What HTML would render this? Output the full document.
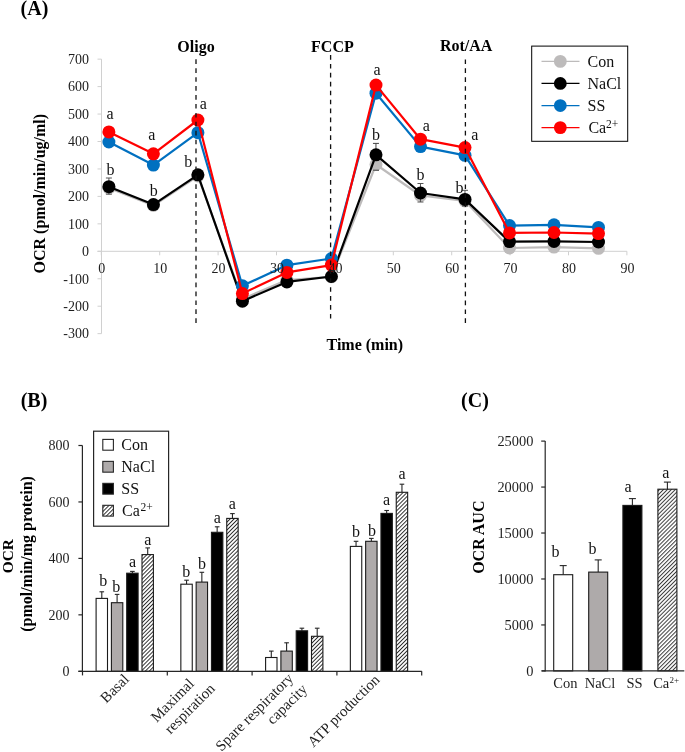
<!DOCTYPE html>
<html><head><meta charset="utf-8"><style>
html,body{margin:0;padding:0;background:#fff;}
body{width:685px;height:752px;overflow:hidden;}
svg{display:block;font-family:"Liberation Serif", serif;will-change:transform;}
</style></head><body>
<svg width="685" height="752" viewBox="0 0 685 752">
<defs>
<pattern id="hatch" patternUnits="userSpaceOnUse" width="2.8" height="4" patternTransform="rotate(45)">
<rect width="2.8" height="4" fill="#fff"/><rect width="0.95" height="4" fill="#2a2a2a"/>
</pattern>
<pattern id="hatchC" patternUnits="userSpaceOnUse" width="2.8" height="4" patternTransform="rotate(45)">
<rect width="2.8" height="4" fill="#fff"/><rect width="1.0" height="4" fill="#3a3a3a"/>
</pattern>
</defs>
<rect width="685" height="752" fill="#fff"/>
<text x="34.5" y="15" font-size="20" text-anchor="middle" font-weight="bold" fill="#000" >(A)</text>
<line x1="101.5" y1="59.150000000000006" x2="101.5" y2="333.65000000000003" stroke="#d0d0d0" stroke-width="1" />
<line x1="97.5" y1="333.65000000000003" x2="101.5" y2="333.65000000000003" stroke="#d0d0d0" stroke-width="1" />
<text x="89" y="338.45" font-size="14" text-anchor="end" font-weight="normal" fill="#1e1e1e" >-300</text>
<line x1="97.5" y1="306.20000000000005" x2="101.5" y2="306.20000000000005" stroke="#d0d0d0" stroke-width="1" />
<text x="89" y="311.0" font-size="14" text-anchor="end" font-weight="normal" fill="#1e1e1e" >-200</text>
<line x1="97.5" y1="278.75" x2="101.5" y2="278.75" stroke="#d0d0d0" stroke-width="1" />
<text x="89" y="283.55" font-size="14" text-anchor="end" font-weight="normal" fill="#1e1e1e" >-100</text>
<line x1="97.5" y1="251.3" x2="101.5" y2="251.3" stroke="#d0d0d0" stroke-width="1" />
<text x="89" y="256.1" font-size="14" text-anchor="end" font-weight="normal" fill="#1e1e1e" >0</text>
<line x1="97.5" y1="223.85000000000002" x2="101.5" y2="223.85000000000002" stroke="#d0d0d0" stroke-width="1" />
<text x="89" y="228.65" font-size="14" text-anchor="end" font-weight="normal" fill="#1e1e1e" >100</text>
<line x1="97.5" y1="196.4" x2="101.5" y2="196.4" stroke="#d0d0d0" stroke-width="1" />
<text x="89" y="201.2" font-size="14" text-anchor="end" font-weight="normal" fill="#1e1e1e" >200</text>
<line x1="97.5" y1="168.95" x2="101.5" y2="168.95" stroke="#d0d0d0" stroke-width="1" />
<text x="89" y="173.75" font-size="14" text-anchor="end" font-weight="normal" fill="#1e1e1e" >300</text>
<line x1="97.5" y1="141.5" x2="101.5" y2="141.5" stroke="#d0d0d0" stroke-width="1" />
<text x="89" y="146.3" font-size="14" text-anchor="end" font-weight="normal" fill="#1e1e1e" >400</text>
<line x1="97.5" y1="114.05000000000001" x2="101.5" y2="114.05000000000001" stroke="#d0d0d0" stroke-width="1" />
<text x="89" y="118.85" font-size="14" text-anchor="end" font-weight="normal" fill="#1e1e1e" >500</text>
<line x1="97.5" y1="86.6" x2="101.5" y2="86.6" stroke="#d0d0d0" stroke-width="1" />
<text x="89" y="91.4" font-size="14" text-anchor="end" font-weight="normal" fill="#1e1e1e" >600</text>
<line x1="97.5" y1="59.150000000000006" x2="101.5" y2="59.150000000000006" stroke="#d0d0d0" stroke-width="1" />
<text x="89" y="63.95" font-size="14" text-anchor="end" font-weight="normal" fill="#1e1e1e" >700</text>
<line x1="97.5" y1="251.3" x2="626.9" y2="251.3" stroke="#d0d0d0" stroke-width="1" />
<line x1="101.3" y1="251.3" x2="101.3" y2="255.3" stroke="#d0d0d0" stroke-width="1" />
<line x1="159.7" y1="251.3" x2="159.7" y2="255.3" stroke="#d0d0d0" stroke-width="1" />
<line x1="218.1" y1="251.3" x2="218.1" y2="255.3" stroke="#d0d0d0" stroke-width="1" />
<line x1="276.5" y1="251.3" x2="276.5" y2="255.3" stroke="#d0d0d0" stroke-width="1" />
<line x1="334.9" y1="251.3" x2="334.9" y2="255.3" stroke="#d0d0d0" stroke-width="1" />
<line x1="393.3" y1="251.3" x2="393.3" y2="255.3" stroke="#d0d0d0" stroke-width="1" />
<line x1="451.7" y1="251.3" x2="451.7" y2="255.3" stroke="#d0d0d0" stroke-width="1" />
<line x1="510.1" y1="251.3" x2="510.1" y2="255.3" stroke="#d0d0d0" stroke-width="1" />
<line x1="568.5" y1="251.3" x2="568.5" y2="255.3" stroke="#d0d0d0" stroke-width="1" />
<line x1="626.9" y1="251.3" x2="626.9" y2="255.3" stroke="#d0d0d0" stroke-width="1" />
<line x1="375.96000000000004" y1="143.4" x2="375.96000000000004" y2="170.2" stroke="#444" stroke-width="1" />
<line x1="372.96000000000004" y1="143.4" x2="378.96000000000004" y2="143.4" stroke="#444" stroke-width="1" />
<line x1="372.96000000000004" y1="170.2" x2="378.96000000000004" y2="170.2" stroke="#444" stroke-width="1" />
<polyline points="108.9,188.0 153.4,205.5 197.9,176.0 242.4,299.0 286.9,280.0 331.4,276.8 376.0,164.5 420.5,195.5 465.0,201.0 509.5,248.0 554.0,247.1 598.5,248.3" fill="none" stroke="#bdbbbb" stroke-width="2.2" stroke-linejoin="round"/>
<circle cx="108.9" cy="188.0" r="6.5" fill="#bdbbbb"/>
<circle cx="153.4" cy="205.5" r="6.5" fill="#bdbbbb"/>
<circle cx="197.9" cy="176.0" r="6.5" fill="#bdbbbb"/>
<circle cx="242.4" cy="299.0" r="6.5" fill="#bdbbbb"/>
<circle cx="286.9" cy="280.0" r="6.5" fill="#bdbbbb"/>
<circle cx="331.4" cy="276.8" r="6.5" fill="#bdbbbb"/>
<circle cx="376.0" cy="164.5" r="6.5" fill="#bdbbbb"/>
<circle cx="420.5" cy="195.5" r="6.5" fill="#bdbbbb"/>
<circle cx="465.0" cy="201.0" r="6.5" fill="#bdbbbb"/>
<circle cx="509.5" cy="248.0" r="6.5" fill="#bdbbbb"/>
<circle cx="554.0" cy="247.1" r="6.5" fill="#bdbbbb"/>
<circle cx="598.5" cy="248.3" r="6.5" fill="#bdbbbb"/>
<line x1="372.96000000000004" y1="170.2" x2="378.96000000000004" y2="170.2" stroke="#444" stroke-width="1" />
<line x1="108.9" y1="178" x2="108.9" y2="194.2" stroke="#555" stroke-width="1" />
<line x1="105.9" y1="178" x2="111.9" y2="178" stroke="#555" stroke-width="1" />
<line x1="105.9" y1="194.2" x2="111.9" y2="194.2" stroke="#555" stroke-width="1" />
<line x1="420.47" y1="183.5" x2="420.47" y2="202" stroke="#555" stroke-width="1" />
<line x1="417.47" y1="183.5" x2="423.47" y2="183.5" stroke="#555" stroke-width="1" />
<line x1="417.47" y1="202" x2="423.47" y2="202" stroke="#555" stroke-width="1" />
<line x1="464.98" y1="190.3" x2="464.98" y2="206" stroke="#555" stroke-width="1" />
<line x1="461.98" y1="190.3" x2="467.98" y2="190.3" stroke="#555" stroke-width="1" />
<line x1="461.98" y1="206" x2="467.98" y2="206" stroke="#555" stroke-width="1" />
<polyline points="108.9,186.7 153.4,204.6 197.9,174.8 242.4,301.2 286.9,281.9 331.4,276.5 376.0,154.8 420.5,193.0 465.0,199.4 509.5,241.6 554.0,241.4 598.5,242.0" fill="none" stroke="#000" stroke-width="2.2" stroke-linejoin="round"/>
<circle cx="108.9" cy="186.7" r="6.5" fill="#000"/>
<circle cx="153.4" cy="204.6" r="6.5" fill="#000"/>
<circle cx="197.9" cy="174.8" r="6.5" fill="#000"/>
<circle cx="242.4" cy="301.2" r="6.5" fill="#000"/>
<circle cx="286.9" cy="281.9" r="6.5" fill="#000"/>
<circle cx="331.4" cy="276.5" r="6.5" fill="#000"/>
<circle cx="376.0" cy="154.8" r="6.5" fill="#000"/>
<circle cx="420.5" cy="193.0" r="6.5" fill="#000"/>
<circle cx="465.0" cy="199.4" r="6.5" fill="#000"/>
<circle cx="509.5" cy="241.6" r="6.5" fill="#000"/>
<circle cx="554.0" cy="241.4" r="6.5" fill="#000"/>
<circle cx="598.5" cy="242.0" r="6.5" fill="#000"/>
<polyline points="108.9,142.0 153.4,165.1 197.9,132.7 242.4,285.8 286.9,265.2 331.4,258.5 376.0,93.2 420.5,146.6 465.0,155.3 509.5,225.6 554.0,224.8 598.5,227.4" fill="none" stroke="#0070c0" stroke-width="2.2" stroke-linejoin="round"/>
<circle cx="108.9" cy="142.0" r="6.5" fill="#0070c0"/>
<circle cx="153.4" cy="165.1" r="6.5" fill="#0070c0"/>
<circle cx="197.9" cy="132.7" r="6.5" fill="#0070c0"/>
<circle cx="242.4" cy="285.8" r="6.5" fill="#0070c0"/>
<circle cx="286.9" cy="265.2" r="6.5" fill="#0070c0"/>
<circle cx="331.4" cy="258.5" r="6.5" fill="#0070c0"/>
<circle cx="376.0" cy="93.2" r="6.5" fill="#0070c0"/>
<circle cx="420.5" cy="146.6" r="6.5" fill="#0070c0"/>
<circle cx="465.0" cy="155.3" r="6.5" fill="#0070c0"/>
<circle cx="509.5" cy="225.6" r="6.5" fill="#0070c0"/>
<circle cx="554.0" cy="224.8" r="6.5" fill="#0070c0"/>
<circle cx="598.5" cy="227.4" r="6.5" fill="#0070c0"/>
<polyline points="108.9,131.9 153.4,153.8 197.9,120.0 242.4,293.6 286.9,272.4 331.4,265.1 376.0,85.1 420.5,139.2 465.0,147.6 509.5,232.9 554.0,232.5 598.5,233.6" fill="none" stroke="#ff0000" stroke-width="2.2" stroke-linejoin="round"/>
<circle cx="108.9" cy="131.9" r="6.5" fill="#ff0000"/>
<circle cx="153.4" cy="153.8" r="6.5" fill="#ff0000"/>
<circle cx="197.9" cy="120.0" r="6.5" fill="#ff0000"/>
<circle cx="242.4" cy="293.6" r="6.5" fill="#ff0000"/>
<circle cx="286.9" cy="272.4" r="6.5" fill="#ff0000"/>
<circle cx="331.4" cy="265.1" r="6.5" fill="#ff0000"/>
<circle cx="376.0" cy="85.1" r="6.5" fill="#ff0000"/>
<circle cx="420.5" cy="139.2" r="6.5" fill="#ff0000"/>
<circle cx="465.0" cy="147.6" r="6.5" fill="#ff0000"/>
<circle cx="509.5" cy="232.9" r="6.5" fill="#ff0000"/>
<circle cx="554.0" cy="232.5" r="6.5" fill="#ff0000"/>
<circle cx="598.5" cy="233.6" r="6.5" fill="#ff0000"/>
<text x="101.8" y="272.7" font-size="14" text-anchor="middle" font-weight="normal" fill="#1e1e1e" >0</text>
<text x="160.2" y="272.7" font-size="14" text-anchor="middle" font-weight="normal" fill="#1e1e1e" >10</text>
<text x="218.6" y="272.7" font-size="14" text-anchor="middle" font-weight="normal" fill="#1e1e1e" >20</text>
<text x="277.0" y="272.7" font-size="14" text-anchor="middle" font-weight="normal" fill="#1e1e1e" >30</text>
<text x="335.4" y="272.7" font-size="14" text-anchor="middle" font-weight="normal" fill="#1e1e1e" >40</text>
<text x="393.8" y="272.7" font-size="14" text-anchor="middle" font-weight="normal" fill="#1e1e1e" >50</text>
<text x="452.2" y="272.7" font-size="14" text-anchor="middle" font-weight="normal" fill="#1e1e1e" >60</text>
<text x="510.6" y="272.7" font-size="14" text-anchor="middle" font-weight="normal" fill="#1e1e1e" >70</text>
<text x="569.0" y="272.7" font-size="14" text-anchor="middle" font-weight="normal" fill="#1e1e1e" >80</text>
<text x="627.4" y="272.7" font-size="14" text-anchor="middle" font-weight="normal" fill="#1e1e1e" >90</text>
<line x1="196.0" y1="59.3" x2="196.0" y2="323" stroke="#111" stroke-width="1.3" stroke-dasharray="4.65 4.28"/>
<line x1="330.6" y1="55.0" x2="330.6" y2="319" stroke="#111" stroke-width="1.3" stroke-dasharray="4.65 4.28"/>
<line x1="465.4" y1="59.4" x2="465.4" y2="323" stroke="#111" stroke-width="1.3" stroke-dasharray="4.65 4.28"/>
<text x="110" y="119.0" font-size="16" text-anchor="middle" font-weight="normal" fill="#111" >a</text>
<text x="110.4" y="175.0" font-size="16" text-anchor="middle" font-weight="normal" fill="#111" >b</text>
<text x="151.7" y="140.0" font-size="16" text-anchor="middle" font-weight="normal" fill="#111" >a</text>
<text x="153.8" y="196.0" font-size="16" text-anchor="middle" font-weight="normal" fill="#111" >b</text>
<text x="203.3" y="108.8" font-size="16" text-anchor="middle" font-weight="normal" fill="#111" >a</text>
<text x="188.3" y="166.5" font-size="16" text-anchor="middle" font-weight="normal" fill="#111" >b</text>
<text x="377.1" y="75.2" font-size="16" text-anchor="middle" font-weight="normal" fill="#111" >a</text>
<text x="376.1" y="139.5" font-size="16" text-anchor="middle" font-weight="normal" fill="#111" >b</text>
<text x="426.2" y="130.8" font-size="16" text-anchor="middle" font-weight="normal" fill="#111" >a</text>
<text x="420.6" y="179.5" font-size="16" text-anchor="middle" font-weight="normal" fill="#111" >b</text>
<text x="474.7" y="139.9" font-size="16" text-anchor="middle" font-weight="normal" fill="#111" >a</text>
<text x="459.4" y="192.6" font-size="16" text-anchor="middle" font-weight="normal" fill="#111" >b</text>
<text x="196" y="52" font-size="16" text-anchor="middle" font-weight="bold" fill="#000" >Oligo</text>
<text x="332.4" y="51.7" font-size="16" text-anchor="middle" font-weight="bold" fill="#000" >FCCP</text>
<text x="466.2" y="51.3" font-size="16" text-anchor="middle" font-weight="bold" fill="#000" >Rot/AA</text>
<text x="364.8" y="349.7" font-size="16" text-anchor="middle" font-weight="bold" fill="#000" >Time (min)</text>
<text x="0" y="0" font-size="16" font-weight="bold" text-anchor="middle" fill="#000" transform="translate(44.7 193.7) rotate(-90)">OCR (pmol/min/ug/ml)</text>
<rect x="531.7" y="46.1" width="96" height="95.2" fill="#fff" stroke="#000" stroke-width="1"/>
<line x1="541.5" y1="61.4" x2="579.5" y2="61.4" stroke="#bdbbbb" stroke-width="1.2" />
<circle cx="560.3" cy="61.40" r="6.4" fill="#bdbbbb"/>
<text x="587.5" y="66.7" font-size="16" text-anchor="start" font-weight="normal" fill="#111" >Con</text>
<line x1="541.5" y1="83.47" x2="579.5" y2="83.47" stroke="#000" stroke-width="1.2" />
<circle cx="560.3" cy="83.47" r="6.4" fill="#000"/>
<text x="587.5" y="88.77" font-size="16" text-anchor="start" font-weight="normal" fill="#111" >NaCl</text>
<line x1="541.5" y1="105.53999999999999" x2="579.5" y2="105.53999999999999" stroke="#0070c0" stroke-width="1.2" />
<circle cx="560.3" cy="105.54" r="6.4" fill="#0070c0"/>
<text x="587.5" y="110.84" font-size="16" text-anchor="start" font-weight="normal" fill="#111" >SS</text>
<line x1="541.5" y1="127.61000000000001" x2="579.5" y2="127.61000000000001" stroke="#ff0000" stroke-width="1.2" />
<circle cx="560.3" cy="127.61" r="6.4" fill="#ff0000"/>
<text x="587.5" y="132.91" font-size="16" text-anchor="start" font-weight="normal" fill="#111" ><tspan dx="0.9">Ca</tspan><tspan font-size="11.5" dx="-0.2" dy="-4.9">2+</tspan></text>
<text x="34" y="407.1" font-size="20" text-anchor="middle" font-weight="bold" fill="#000" >(B)</text>
<line x1="78.4" y1="671.3" x2="82.4" y2="671.3" stroke="#262626" stroke-width="1.2" />
<text x="69.4" y="676.1" font-size="14" text-anchor="end" font-weight="normal" fill="#1e1e1e" >0</text>
<line x1="78.4" y1="614.8499999999999" x2="82.4" y2="614.8499999999999" stroke="#262626" stroke-width="1.2" />
<text x="69.4" y="619.65" font-size="14" text-anchor="end" font-weight="normal" fill="#1e1e1e" >200</text>
<line x1="78.4" y1="558.4" x2="82.4" y2="558.4" stroke="#262626" stroke-width="1.2" />
<text x="69.4" y="563.2" font-size="14" text-anchor="end" font-weight="normal" fill="#1e1e1e" >400</text>
<line x1="78.4" y1="501.94999999999993" x2="82.4" y2="501.94999999999993" stroke="#262626" stroke-width="1.2" />
<text x="69.4" y="506.75" font-size="14" text-anchor="end" font-weight="normal" fill="#1e1e1e" >600</text>
<line x1="78.4" y1="445.49999999999994" x2="82.4" y2="445.49999999999994" stroke="#262626" stroke-width="1.2" />
<text x="69.4" y="450.3" font-size="14" text-anchor="end" font-weight="normal" fill="#1e1e1e" >800</text>
<line x1="101.8" y1="591.8" x2="101.8" y2="598.4" stroke="#262626" stroke-width="1.1" />
<line x1="99.5" y1="591.8" x2="104.1" y2="591.8" stroke="#262626" stroke-width="1.1" />
<rect x="96.10" y="598.40" width="11.4" height="72.90" fill="#fff" stroke="#1a1a1a" stroke-width="1.1"/>
<line x1="117.1" y1="594.4" x2="117.1" y2="602.7" stroke="#262626" stroke-width="1.1" />
<line x1="114.8" y1="594.4" x2="119.39999999999999" y2="594.4" stroke="#262626" stroke-width="1.1" />
<rect x="111.40" y="602.70" width="11.4" height="68.60" fill="#aeaaaa" stroke="#1a1a1a" stroke-width="1.1"/>
<line x1="132.39999999999998" y1="571.4" x2="132.39999999999998" y2="573.2" stroke="#262626" stroke-width="1.1" />
<line x1="130.09999999999997" y1="571.4" x2="134.7" y2="571.4" stroke="#262626" stroke-width="1.1" />
<rect x="126.70" y="573.20" width="11.4" height="98.10" fill="#000" stroke="#1a1a1a" stroke-width="1.1"/>
<line x1="147.7" y1="547.9" x2="147.7" y2="554.6" stroke="#262626" stroke-width="1.1" />
<line x1="145.39999999999998" y1="547.9" x2="150.0" y2="547.9" stroke="#262626" stroke-width="1.1" />
<rect x="142.00" y="554.60" width="11.4" height="116.70" fill="url(#hatch)" stroke="#1a1a1a" stroke-width="1.1"/>
<line x1="186.54999999999998" y1="580.2" x2="186.54999999999998" y2="584.2" stroke="#262626" stroke-width="1.1" />
<line x1="184.24999999999997" y1="580.2" x2="188.85" y2="580.2" stroke="#262626" stroke-width="1.1" />
<rect x="180.85" y="584.20" width="11.4" height="87.10" fill="#fff" stroke="#1a1a1a" stroke-width="1.1"/>
<line x1="201.85" y1="572.3" x2="201.85" y2="582.1" stroke="#262626" stroke-width="1.1" />
<line x1="199.54999999999998" y1="572.3" x2="204.15" y2="572.3" stroke="#262626" stroke-width="1.1" />
<rect x="196.15" y="582.10" width="11.4" height="89.20" fill="#aeaaaa" stroke="#1a1a1a" stroke-width="1.1"/>
<line x1="217.14999999999998" y1="526.8" x2="217.14999999999998" y2="532.3" stroke="#262626" stroke-width="1.1" />
<line x1="214.84999999999997" y1="526.8" x2="219.45" y2="526.8" stroke="#262626" stroke-width="1.1" />
<rect x="211.45" y="532.30" width="11.4" height="139.00" fill="#000" stroke="#1a1a1a" stroke-width="1.1"/>
<line x1="232.45" y1="513.6" x2="232.45" y2="518.4" stroke="#262626" stroke-width="1.1" />
<line x1="230.14999999999998" y1="513.6" x2="234.75" y2="513.6" stroke="#262626" stroke-width="1.1" />
<rect x="226.75" y="518.40" width="11.4" height="152.90" fill="url(#hatch)" stroke="#1a1a1a" stroke-width="1.1"/>
<line x1="271.3" y1="651.1" x2="271.3" y2="657.5" stroke="#262626" stroke-width="1.1" />
<line x1="269.0" y1="651.1" x2="273.6" y2="651.1" stroke="#262626" stroke-width="1.1" />
<rect x="265.60" y="657.50" width="11.4" height="13.80" fill="#fff" stroke="#1a1a1a" stroke-width="1.1"/>
<line x1="286.6" y1="642.8" x2="286.6" y2="651.1" stroke="#262626" stroke-width="1.1" />
<line x1="284.3" y1="642.8" x2="288.90000000000003" y2="642.8" stroke="#262626" stroke-width="1.1" />
<rect x="280.90" y="651.10" width="11.4" height="20.20" fill="#aeaaaa" stroke="#1a1a1a" stroke-width="1.1"/>
<line x1="301.90000000000003" y1="628.2" x2="301.90000000000003" y2="630.8" stroke="#262626" stroke-width="1.1" />
<line x1="299.6" y1="628.2" x2="304.20000000000005" y2="628.2" stroke="#262626" stroke-width="1.1" />
<rect x="296.20" y="630.80" width="11.4" height="40.50" fill="#000" stroke="#1a1a1a" stroke-width="1.1"/>
<line x1="317.2" y1="628.2" x2="317.2" y2="636.3" stroke="#262626" stroke-width="1.1" />
<line x1="314.9" y1="628.2" x2="319.5" y2="628.2" stroke="#262626" stroke-width="1.1" />
<rect x="311.50" y="636.30" width="11.4" height="35.00" fill="url(#hatch)" stroke="#1a1a1a" stroke-width="1.1"/>
<line x1="356.05" y1="541.3" x2="356.05" y2="546.4" stroke="#262626" stroke-width="1.1" />
<line x1="353.75" y1="541.3" x2="358.35" y2="541.3" stroke="#262626" stroke-width="1.1" />
<rect x="350.35" y="546.40" width="11.4" height="124.90" fill="#fff" stroke="#1a1a1a" stroke-width="1.1"/>
<line x1="371.35" y1="538.4" x2="371.35" y2="541.3" stroke="#262626" stroke-width="1.1" />
<line x1="369.05" y1="538.4" x2="373.65000000000003" y2="538.4" stroke="#262626" stroke-width="1.1" />
<rect x="365.65" y="541.30" width="11.4" height="130.00" fill="#aeaaaa" stroke="#1a1a1a" stroke-width="1.1"/>
<line x1="386.65000000000003" y1="510.5" x2="386.65000000000003" y2="513.4" stroke="#262626" stroke-width="1.1" />
<line x1="384.35" y1="510.5" x2="388.95000000000005" y2="510.5" stroke="#262626" stroke-width="1.1" />
<rect x="380.95" y="513.40" width="11.4" height="157.90" fill="#000" stroke="#1a1a1a" stroke-width="1.1"/>
<line x1="401.95" y1="484.2" x2="401.95" y2="492.3" stroke="#262626" stroke-width="1.1" />
<line x1="399.65" y1="484.2" x2="404.25" y2="484.2" stroke="#262626" stroke-width="1.1" />
<rect x="396.25" y="492.30" width="11.4" height="179.00" fill="url(#hatch)" stroke="#1a1a1a" stroke-width="1.1"/>
<text x="103.3" y="586.2" font-size="16" text-anchor="middle" font-weight="normal" fill="#111" >b</text>
<text x="116.3" y="591.5" font-size="16" text-anchor="middle" font-weight="normal" fill="#111" >b</text>
<text x="132.5" y="566.7" font-size="16" text-anchor="middle" font-weight="normal" fill="#111" >a</text>
<text x="147.8" y="544.8" font-size="16" text-anchor="middle" font-weight="normal" fill="#111" >a</text>
<text x="186.3" y="577" font-size="16" text-anchor="middle" font-weight="normal" fill="#111" >b</text>
<text x="201.9" y="569.1" font-size="16" text-anchor="middle" font-weight="normal" fill="#111" >b</text>
<text x="217.4" y="522.9" font-size="16" text-anchor="middle" font-weight="normal" fill="#111" >a</text>
<text x="232.3" y="508.5" font-size="16" text-anchor="middle" font-weight="normal" fill="#111" >a</text>
<text x="356" y="537.4" font-size="16" text-anchor="middle" font-weight="normal" fill="#111" >b</text>
<text x="372" y="536.3" font-size="16" text-anchor="middle" font-weight="normal" fill="#111" >b</text>
<text x="386.6" y="504.8" font-size="16" text-anchor="middle" font-weight="normal" fill="#111" >a</text>
<text x="402.1" y="478.5" font-size="16" text-anchor="middle" font-weight="normal" fill="#111" >a</text>
<line x1="82.4" y1="445.49999999999994" x2="82.4" y2="671.9" stroke="#262626" stroke-width="1.2" />
<line x1="78.4" y1="671.3" x2="421.8" y2="671.3" stroke="#262626" stroke-width="1.2" />
<line x1="82.5" y1="671.3" x2="82.5" y2="675.4" stroke="#262626" stroke-width="1.2" />
<line x1="167.3" y1="671.3" x2="167.3" y2="675.4" stroke="#262626" stroke-width="1.2" />
<line x1="252.1" y1="671.3" x2="252.1" y2="675.4" stroke="#262626" stroke-width="1.2" />
<line x1="336.9" y1="671.3" x2="336.9" y2="675.4" stroke="#262626" stroke-width="1.2" />
<line x1="421.7" y1="671.3" x2="421.7" y2="675.4" stroke="#262626" stroke-width="1.2" />
<text x="0" y="0" font-size="15" text-anchor="end" fill="#1e1e1e" transform="translate(129.9 680.1) rotate(-45)">Basal</text>
<text x="0" y="0" font-size="15" text-anchor="middle" fill="#1e1e1e" transform="translate(175.8 703.8) rotate(-45)">Maximal</text>
<text x="0" y="0" font-size="15" text-anchor="middle" fill="#1e1e1e" transform="translate(193.2 712.0) rotate(-45)">respiration</text>
<text x="0" y="0" font-size="15" text-anchor="middle" fill="#1e1e1e" transform="translate(257.8 715.6) rotate(-45)">Spare respiratory</text>
<text x="0" y="0" font-size="15" text-anchor="middle" fill="#1e1e1e" transform="translate(290.5 707.6) rotate(-45)">capacity</text>
<text x="0" y="0" font-size="15" text-anchor="end" fill="#1e1e1e" transform="translate(380.5 680.6) rotate(-45)">ATP production</text>
<rect x="93.6" y="431.2" width="75" height="95" fill="#fff" stroke="#262626" stroke-width="1.2"/>
<rect x="102.8" y="439.40" width="10.6" height="10.8" fill="#fff" stroke="#262626" stroke-width="1.1"/>
<text x="121.3" y="449.6" font-size="16" text-anchor="start" font-weight="normal" fill="#111" >Con</text>
<rect x="102.8" y="461.37" width="10.6" height="10.8" fill="#aeaaaa" stroke="#262626" stroke-width="1.1"/>
<text x="121.3" y="471.57" font-size="16" text-anchor="start" font-weight="normal" fill="#111" >NaCl</text>
<rect x="102.8" y="483.34" width="10.6" height="10.8" fill="#000" stroke="#262626" stroke-width="1.1"/>
<text x="121.3" y="493.54" font-size="16" text-anchor="start" font-weight="normal" fill="#111" >SS</text>
<rect x="102.8" y="505.31" width="10.6" height="10.8" fill="url(#hatch)" stroke="#262626" stroke-width="1.1"/>
<text x="121.3" y="515.51" font-size="16" text-anchor="start" font-weight="normal" fill="#111" ><tspan dx="0.8">Ca</tspan><tspan font-size="11.5" dx="0.6" dy="-4.4">2+</tspan></text>
<text x="0" y="0" font-size="15.3" font-weight="bold" text-anchor="middle" fill="#000" transform="translate(12.6 556.2) rotate(-90)">OCR</text>
<text x="0" y="0" font-size="16" font-weight="bold" text-anchor="middle" fill="#000" transform="translate(31.6 554) rotate(-90)">(pmol/min/mg protein)</text>
<text x="475" y="407.0" font-size="20" text-anchor="middle" font-weight="bold" fill="#000" >(C)</text>
<line x1="541.2" y1="670.9" x2="545.2" y2="670.9" stroke="#262626" stroke-width="1.2" />
<text x="533.4" y="675.7" font-size="14.4" text-anchor="end" font-weight="normal" fill="#1e1e1e" >0</text>
<line x1="541.2" y1="624.9399999999999" x2="545.2" y2="624.9399999999999" stroke="#262626" stroke-width="1.2" />
<text x="533.4" y="629.74" font-size="14.4" text-anchor="end" font-weight="normal" fill="#1e1e1e" >5000</text>
<line x1="541.2" y1="578.98" x2="545.2" y2="578.98" stroke="#262626" stroke-width="1.2" />
<text x="533.4" y="583.78" font-size="14.4" text-anchor="end" font-weight="normal" fill="#1e1e1e" >10000</text>
<line x1="541.2" y1="533.02" x2="545.2" y2="533.02" stroke="#262626" stroke-width="1.2" />
<text x="533.4" y="537.82" font-size="14.4" text-anchor="end" font-weight="normal" fill="#1e1e1e" >15000</text>
<line x1="541.2" y1="487.05999999999995" x2="545.2" y2="487.05999999999995" stroke="#262626" stroke-width="1.2" />
<text x="533.4" y="491.86" font-size="14.4" text-anchor="end" font-weight="normal" fill="#1e1e1e" >20000</text>
<line x1="541.2" y1="441.09999999999997" x2="545.2" y2="441.09999999999997" stroke="#262626" stroke-width="1.2" />
<text x="533.4" y="445.9" font-size="14.4" text-anchor="end" font-weight="normal" fill="#1e1e1e" >25000</text>
<line x1="563.2" y1="565.6" x2="563.2" y2="574.7" stroke="#262626" stroke-width="1.1" />
<line x1="559.7" y1="565.6" x2="566.7" y2="565.6" stroke="#262626" stroke-width="1.1" />
<rect x="553.70" y="574.70" width="19" height="96.20" fill="#fff" stroke="#1a1a1a" stroke-width="1.1"/>
<line x1="598.2" y1="559.9" x2="598.2" y2="572.1" stroke="#262626" stroke-width="1.1" />
<line x1="594.7" y1="559.9" x2="601.7" y2="559.9" stroke="#262626" stroke-width="1.1" />
<rect x="588.70" y="572.10" width="19" height="98.80" fill="#aeaaaa" stroke="#1a1a1a" stroke-width="1.1"/>
<line x1="632.4" y1="498.6" x2="632.4" y2="505.4" stroke="#262626" stroke-width="1.1" />
<line x1="628.9" y1="498.6" x2="635.9" y2="498.6" stroke="#262626" stroke-width="1.1" />
<rect x="622.90" y="505.40" width="19" height="165.50" fill="#000" stroke="#1a1a1a" stroke-width="1.1"/>
<line x1="667.4" y1="482.1" x2="667.4" y2="489.2" stroke="#262626" stroke-width="1.1" />
<line x1="663.9" y1="482.1" x2="670.9" y2="482.1" stroke="#262626" stroke-width="1.1" />
<rect x="657.90" y="489.20" width="19" height="181.70" fill="url(#hatchC)" stroke="#1a1a1a" stroke-width="1.1"/>
<line x1="545.2" y1="441.09999999999997" x2="545.2" y2="671.5" stroke="#262626" stroke-width="1.2" />
<line x1="542" y1="670.9" x2="684.3" y2="670.9" stroke="#262626" stroke-width="1.2" />
<text x="555.5" y="557.2" font-size="16" text-anchor="middle" font-weight="normal" fill="#111" >b</text>
<text x="592.5" y="553.5" font-size="16" text-anchor="middle" font-weight="normal" fill="#111" >b</text>
<text x="628" y="492.3" font-size="16" text-anchor="middle" font-weight="normal" fill="#111" >a</text>
<text x="665.9" y="478.1" font-size="16" text-anchor="middle" font-weight="normal" fill="#111" >a</text>
<text x="565.4" y="688.1" font-size="14.5" text-anchor="middle" font-weight="normal" fill="#1e1e1e" >Con</text>
<text x="600" y="688.1" font-size="14.5" text-anchor="middle" font-weight="normal" fill="#1e1e1e" >NaCl</text>
<text x="634.5" y="688.1" font-size="14.5" text-anchor="middle" font-weight="normal" fill="#1e1e1e" >SS</text>
<text x="666.2" y="688.1" font-size="14.5" text-anchor="middle" font-weight="normal" fill="#1e1e1e" >Ca<tspan font-size="9" dx="0.3" dy="-5">2+</tspan></text>
<text x="0" y="0" font-size="16" font-weight="bold" text-anchor="middle" fill="#000" transform="translate(484.1 537.2) rotate(-90)">OCR AUC</text>
</svg>
</body></html>
